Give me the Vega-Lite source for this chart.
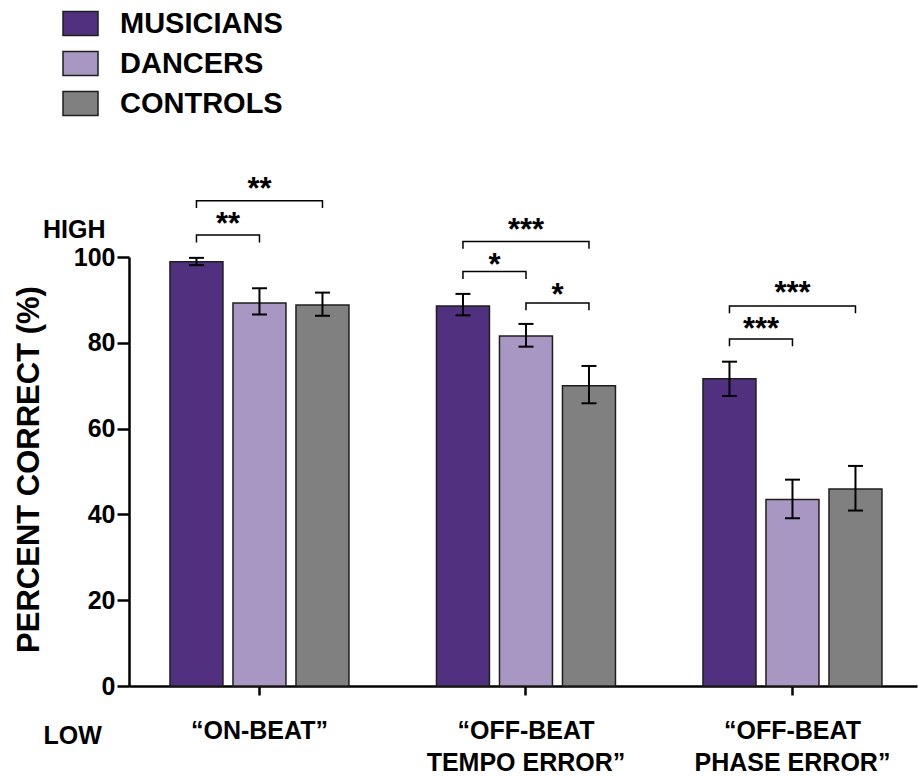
{
  "$schema": "https://vega.github.io/schema/vega-lite/v6.json",
  "width": 788,
  "height": 429,
  "autosize": {"type": "none"},
  "padding": {"left": 129, "top": 257, "right": 1, "bottom": 90},
  "title": {"text": "HIGH", "frame": "group", "anchor": "start", "orient": "top", "align": "left", "dx": -86, "offset": -258, "fontSize": 25, "font": "Liberation Sans", "fontWeight": "bold", "color": "black", "baseline": "alphabetic"},
  "config": {"view": {"stroke": null}, "font": "Liberation Sans"},
  "datasets": {
    "bars": [
      {"group": "“ON-BEAT”", "series": "MUSICIANS", "value": 98.9, "lo": 98.1, "hi": 99.8},
      {"group": "“ON-BEAT”", "series": "DANCERS", "value": 89.3, "lo": 86.6, "hi": 92.7},
      {"group": "“ON-BEAT”", "series": "CONTROLS", "value": 88.8, "lo": 86.3, "hi": 91.7},
      {"group": "“OFF-BEAT TEMPO ERROR”", "series": "MUSICIANS", "value": 88.6, "lo": 86.4, "hi": 91.4},
      {"group": "“OFF-BEAT TEMPO ERROR”", "series": "DANCERS", "value": 81.6, "lo": 79.1, "hi": 84.4},
      {"group": "“OFF-BEAT TEMPO ERROR”", "series": "CONTROLS", "value": 70.0, "lo": 65.9, "hi": 74.6},
      {"group": "“OFF-BEAT PHASE ERROR”", "series": "MUSICIANS", "value": 71.6, "lo": 67.6, "hi": 75.6},
      {"group": "“OFF-BEAT PHASE ERROR”", "series": "DANCERS", "value": 43.5, "lo": 39.1, "hi": 48.1},
      {"group": "“OFF-BEAT PHASE ERROR”", "series": "CONTROLS", "value": 45.9, "lo": 40.9, "hi": 51.3}
    ],
    "brackets": [
      {"b": 1, "group": "“ON-BEAT”", "series": "MUSICIANS", "v": 111.4, "k": 1},
      {"b": 1, "group": "“ON-BEAT”", "series": "MUSICIANS", "v": 113.1, "k": 2},
      {"b": 1, "group": "“ON-BEAT”", "series": "CONTROLS", "v": 113.1, "k": 3},
      {"b": 1, "group": "“ON-BEAT”", "series": "CONTROLS", "v": 111.4, "k": 4},
      {"b": 2, "group": "“ON-BEAT”", "series": "MUSICIANS", "v": 103.4, "k": 1},
      {"b": 2, "group": "“ON-BEAT”", "series": "MUSICIANS", "v": 105.1, "k": 2},
      {"b": 2, "group": "“ON-BEAT”", "series": "DANCERS", "v": 105.1, "k": 3},
      {"b": 2, "group": "“ON-BEAT”", "series": "DANCERS", "v": 103.4, "k": 4},
      {"b": 3, "group": "“OFF-BEAT TEMPO ERROR”", "series": "MUSICIANS", "v": 101.9, "k": 1},
      {"b": 3, "group": "“OFF-BEAT TEMPO ERROR”", "series": "MUSICIANS", "v": 103.6, "k": 2},
      {"b": 3, "group": "“OFF-BEAT TEMPO ERROR”", "series": "CONTROLS", "v": 103.6, "k": 3},
      {"b": 3, "group": "“OFF-BEAT TEMPO ERROR”", "series": "CONTROLS", "v": 101.9, "k": 4},
      {"b": 4, "group": "“OFF-BEAT TEMPO ERROR”", "series": "MUSICIANS", "v": 94.9, "k": 1},
      {"b": 4, "group": "“OFF-BEAT TEMPO ERROR”", "series": "MUSICIANS", "v": 96.6, "k": 2},
      {"b": 4, "group": "“OFF-BEAT TEMPO ERROR”", "series": "DANCERS", "v": 96.6, "k": 3},
      {"b": 4, "group": "“OFF-BEAT TEMPO ERROR”", "series": "DANCERS", "v": 94.9, "k": 4},
      {"b": 5, "group": "“OFF-BEAT TEMPO ERROR”", "series": "DANCERS", "v": 87.6, "k": 1},
      {"b": 5, "group": "“OFF-BEAT TEMPO ERROR”", "series": "DANCERS", "v": 89.3, "k": 2},
      {"b": 5, "group": "“OFF-BEAT TEMPO ERROR”", "series": "CONTROLS", "v": 89.3, "k": 3},
      {"b": 5, "group": "“OFF-BEAT TEMPO ERROR”", "series": "CONTROLS", "v": 87.6, "k": 4},
      {"b": 6, "group": "“OFF-BEAT PHASE ERROR”", "series": "MUSICIANS", "v": 86.9, "k": 1},
      {"b": 6, "group": "“OFF-BEAT PHASE ERROR”", "series": "MUSICIANS", "v": 88.6, "k": 2},
      {"b": 6, "group": "“OFF-BEAT PHASE ERROR”", "series": "CONTROLS", "v": 88.6, "k": 3},
      {"b": 6, "group": "“OFF-BEAT PHASE ERROR”", "series": "CONTROLS", "v": 86.9, "k": 4},
      {"b": 7, "group": "“OFF-BEAT PHASE ERROR”", "series": "MUSICIANS", "v": 79.2, "k": 1},
      {"b": 7, "group": "“OFF-BEAT PHASE ERROR”", "series": "MUSICIANS", "v": 80.9, "k": 2},
      {"b": 7, "group": "“OFF-BEAT PHASE ERROR”", "series": "DANCERS", "v": 80.9, "k": 3},
      {"b": 7, "group": "“OFF-BEAT PHASE ERROR”", "series": "DANCERS", "v": 79.2, "k": 4}
    ],
    "stars": [
      {"group": "“ON-BEAT”", "series": "DANCERS", "v": 113.5, "label": "**", "half": false},
      {"group": "“ON-BEAT”", "series": "MUSICIANS", "v": 105.3, "label": "**", "half": true},
      {"group": "“OFF-BEAT TEMPO ERROR”", "series": "DANCERS", "v": 104.0, "label": "***", "half": false},
      {"group": "“OFF-BEAT TEMPO ERROR”", "series": "MUSICIANS", "v": 95.8, "label": "*", "half": true},
      {"group": "“OFF-BEAT TEMPO ERROR”", "series": "DANCERS", "v": 88.8, "label": "*", "half": true},
      {"group": "“OFF-BEAT PHASE ERROR”", "series": "DANCERS", "v": 89.3, "label": "***", "half": false},
      {"group": "“OFF-BEAT PHASE ERROR”", "series": "MUSICIANS", "v": 81.0, "label": "***", "half": true}
    ]
  },
  "encoding": {
    "x": {
      "field": "group", "type": "nominal",
      "scale": {"domain": ["“ON-BEAT”", "“OFF-BEAT TEMPO ERROR”", "“OFF-BEAT PHASE ERROR”"], "paddingInner": 0.2908, "paddingOuter": 0.1238, "align": 0.545},
      "axis": {
        "title": "LOW", "titleX": -86, "titleY": 57, "titleAlign": "left", "titleBaseline": "alphabetic", "titleAnchor": null,
        "titleFontSize": 25, "titleFontWeight": "bold", "titleColor": "black", "titleFont": "Liberation Sans",
        "labelAngle": 0, "labelFontSize": 25, "labelFontWeight": "bold", "labelColor": "black", "labelFont": "Liberation Sans",
        "labelLineHeight": 32, "labelPadding": 23, "labelLimit": 400,
        "labelExpr": "indexof(datum.label, ' ') > 0 ? [substring(datum.label, 0, indexof(datum.label, ' ')), substring(datum.label, indexof(datum.label, ' ') + 1)] : datum.label",
        "tickSize": 9, "tickWidth": 2.5, "tickColor": "black", "domainWidth": 2.5, "domainColor": "black", "grid": false
      }
    },
    "xOffset": {
      "field": "series", "type": "nominal",
      "scale": {"domain": ["MUSICIANS", "DANCERS", "CONTROLS"], "paddingInner": 0.159, "paddingOuter": 0.0795}
    }
  },
  "layer": [
    {
      "data": {"name": "bars"},
      "mark": {"type": "bar", "stroke": "#1e1e1e", "strokeWidth": 1.5},
      "encoding": {
        "y": {
          "field": "value", "type": "quantitative", "title": "PERCENT CORRECT (%)",
          "scale": {"domain": [0, 100], "nice": false},
          "axis": {
            "title": "PERCENT CORRECT (%)", "titleX": -91, "titleY": 212, "titleAngle": -90, "titleAlign": "center", "titleBaseline": "alphabetic",
            "titleFontSize": 31, "titleFontWeight": "bold", "titleColor": "black", "titleFont": "Liberation Sans",
            "values": [0, 20, 40, 60, 80, 100], "labelFontSize": 25, "labelFontWeight": "bold", "labelColor": "black", "labelFont": "Liberation Sans",
            "labelPadding": 2, "tickSize": 12, "tickWidth": 2.5, "tickColor": "black", "domainWidth": 2.5, "domainColor": "black", "grid": false
          }
        },
        "color": {
          "field": "series", "type": "nominal",
          "scale": {"domain": ["MUSICIANS", "DANCERS", "CONTROLS"], "range": ["#51317f", "#a897c2", "#808080"]},
          "legend": {
            "orient": "none", "legendX": -67, "legendY": -252, "title": null, "padding": 0,
            "symbolType": "M-1,-0.686H1V0.686H-1Z", "symbolSize": 1225, "symbolStrokeColor": "#1e1e1e", "symbolStrokeWidth": 1.5, "symbolOpacity": 1,
            "labelFontSize": 29, "labelFontWeight": "bold", "labelColor": "black", "labelFont": "Liberation Sans", "labelOffset": 21, "rowPadding": 6, "labelLimit": 400
          }
        }
      }
    },
    {
      "data": {"name": "bars"},
      "mark": {"type": "rule", "color": "black", "strokeWidth": 2},
      "encoding": {
        "y": {"field": "lo", "type": "quantitative", "title": "PERCENT CORRECT (%)"},
        "y2": {"field": "hi"}
      }
    },
    {
      "data": {"name": "bars"},
      "mark": {"type": "tick", "orient": "horizontal", "color": "black", "size": 15, "thickness": 2, "opacity": 1},
      "encoding": {
        "y": {"field": "lo", "type": "quantitative", "title": "PERCENT CORRECT (%)"}
      }
    },
    {
      "data": {"name": "bars"},
      "mark": {"type": "tick", "orient": "horizontal", "color": "black", "size": 15, "thickness": 2, "opacity": 1},
      "encoding": {
        "y": {"field": "hi", "type": "quantitative", "title": "PERCENT CORRECT (%)"}
      }
    },
    {
      "data": {"name": "brackets"},
      "mark": {"type": "line", "color": "black", "strokeWidth": 1.5},
      "encoding": {
        "y": {"field": "v", "type": "quantitative", "title": "PERCENT CORRECT (%)"},
        "detail": {"field": "b", "type": "nominal"},
        "order": {"field": "k", "type": "quantitative"}
      }
    },
    {
      "data": {"name": "stars"},
      "transform": [{"filter": "!datum.half"}],
      "mark": {"type": "text", "fontSize": 31, "fontWeight": "bold", "font": "Liberation Sans", "color": "black", "baseline": "alphabetic", "align": "center"},
      "encoding": {
        "y": {"field": "v", "type": "quantitative", "title": "PERCENT CORRECT (%)"},
        "text": {"field": "label"}
      }
    },
    {
      "data": {"name": "stars"},
      "transform": [{"filter": "datum.half"}],
      "mark": {"type": "text", "fontSize": 31, "fontWeight": "bold", "font": "Liberation Sans", "color": "black", "baseline": "alphabetic", "align": "center", "dx": 31.5},
      "encoding": {
        "y": {"field": "v", "type": "quantitative", "title": "PERCENT CORRECT (%)"},
        "text": {"field": "label"}
      }
    }
  ]
}
